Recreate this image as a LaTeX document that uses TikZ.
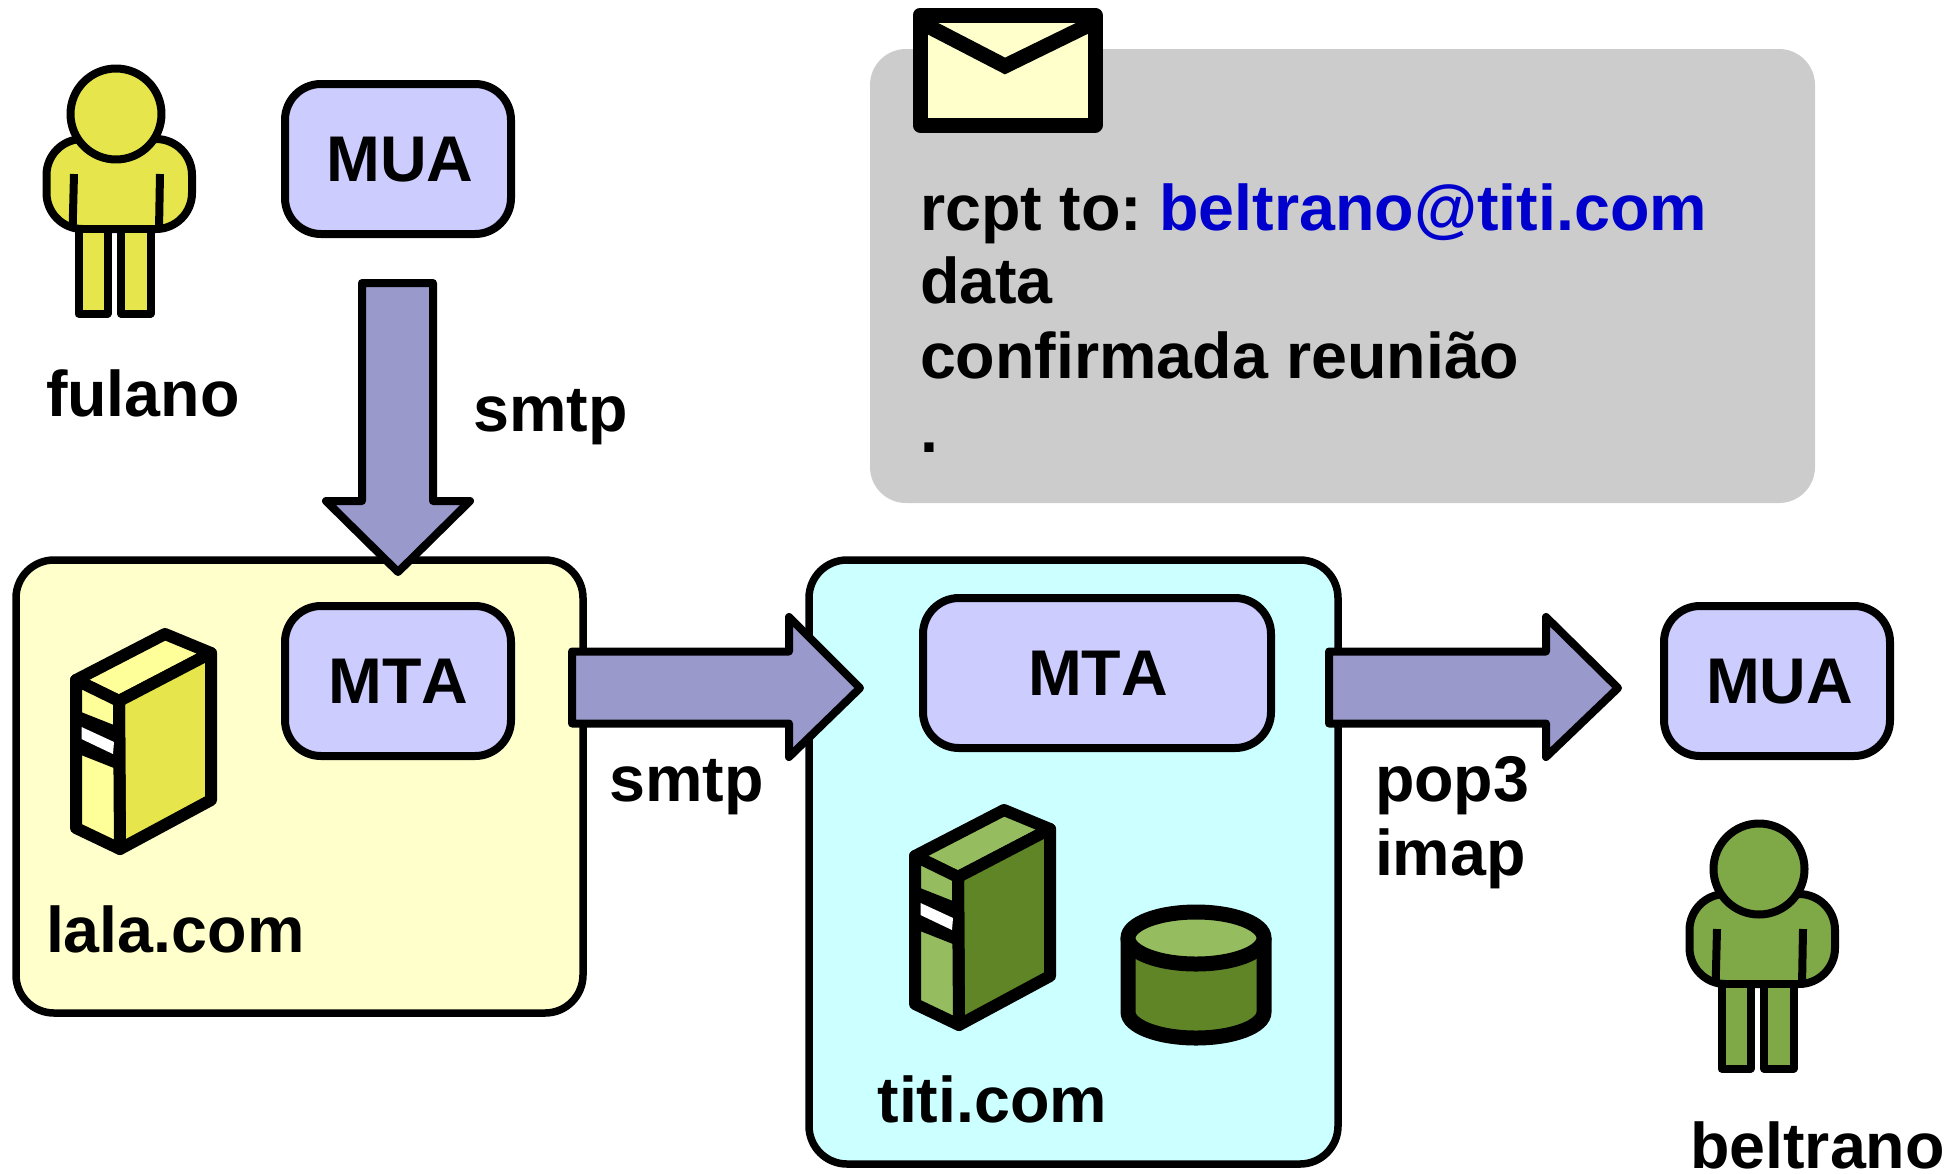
\documentclass[tikz,border=0pt]{standalone}
\usepackage{fontspec}
\setmainfont{Liberation Sans}[Kerning=Off]
\definecolor{boxyellow}{HTML}{FFFFCC}
\definecolor{boxcyan}{HTML}{CCFFFF}
\definecolor{boxblue}{HTML}{CCCCFF}
\definecolor{arrowblue}{HTML}{9999CC}
\definecolor{boxgray}{HTML}{CCCCCC}
\definecolor{mailblue}{HTML}{0000CC}
\definecolor{peryellow}{HTML}{E6E64C}
\definecolor{litey}{HTML}{FFFF99}
\definecolor{pergreen}{HTML}{7FA847}
\definecolor{darkg}{HTML}{5F8527}
\definecolor{liteg}{HTML}{95BD5F}
\tikzset{
  lbl/.style={anchor=base west,inner sep=0pt,outer sep=0pt,font=\fontsize{64.6}{74}\selectfont\bfseries},
  domain box/.style={draw=black,line width=7.5pt,rounded corners=38pt},
  agent box/.style={draw=black,fill=boxblue,line width=8pt,rounded corners=36pt},
  block arrow/.style={draw=black,fill=arrowblue,line width=8pt,line join=round},
  figline/.style={draw=black,line width=8pt,line join=round},
  srv/.style={draw=black,line width=12pt,line join=round},
}
\newcommand{\personfig}[3]{%
  \begin{scope}[shift={(#1,#2)}]
    \draw[figline,fill=#3,rounded corners=36pt] (46.5,139) rectangle (192,229);
    \draw[figline,fill=#3] (78.5,229) rectangle (107.5,313.5);
    \draw[figline,fill=#3] (121,229) rectangle (150.5,313.5);
    \draw[figline] (78.5,229) -- (150.5,229);
    \draw[figline] (74,174) -- (72.6,230);
    \draw[figline] (160,174) -- (159,230);
    \draw[figline,fill=#3] (116,114) circle[radius=45.5];
  \end{scope}}
\newcommand{\serverfig}[4]{%
  \begin{scope}[shift={(#1,#2)}]
    \draw[srv,fill=#3] (165,634) -- (211,653) -- (119,701) -- (76,680) -- cycle;
    \draw[srv,fill=#4] (211,653) -- (211,800) -- (120,849) -- (119,701) -- cycle;
    \draw[srv,fill=#3] (76,680) -- (119,701) -- (120,849) -- (76,828) -- cycle;
    \fill[black] (76,710) -- (119,727) -- (119,770) -- (76,753) -- cycle;
    \fill[white] (81.5,727) -- (114,742) -- (113,754) -- (81.5,739) -- cycle;
  \end{scope}}
\begin{document}
\begin{tikzpicture}[x=1pt,y=-1pt]
\useasboundingbox (0,0) rectangle (1958,1173);
% gray message box
\fill[boxgray,rounded corners=36pt] (870,49) rectangle (1815,503);
% envelope
\draw[black,line width=15pt,fill=boxyellow,line join=round] (920,15) rectangle (1095,125);
\draw[black,line width=15pt,line join=miter] (920,22) -- (1005,66) -- (1095,22);
% domains
\draw[domain box,fill=boxyellow] (16,560) rectangle (583,1013);
\draw[domain box,fill=boxcyan] (809,560) rectangle (1338,1164);
% agents
\draw[agent box] (285,84) rectangle (511,234);
\draw[agent box] (285,606) rectangle (511,756);
\draw[agent box] (923,598) rectangle (1271,748);
\draw[agent box] (1664,606) rectangle (1890,756);
% persons
\personfig{0}{0}{peryellow}
\personfig{1643}{755}{pergreen}
% servers
\serverfig{0}{0}{litey}{peryellow}
\serverfig{839}{176}{liteg}{darkg}
% database
\draw[black,line width=15pt,fill=darkg] (1128,938) -- (1128,1012) arc[start angle=180,end angle=0,x radius=68,y radius=26] -- (1264,938);
\draw[black,line width=15pt,fill=liteg] (1196,938) ellipse[x radius=68,y radius=26];
% block arrows
\draw[block arrow] (362,283) -- (433,283) -- (433,501) -- (470,501) -- (398,572) -- (326,501) -- (362,501) -- cycle;
\draw[block arrow] (572,651.5) -- (789,651.5) -- (789,617) -- (860,688) -- (789,757) -- (789,723.5) -- (572,723.5) -- cycle;
\draw[block arrow] (1329,651.5) -- (1546,651.5) -- (1546,617) -- (1618,688) -- (1546,757) -- (1546,723.5) -- (1329,723.5) -- cycle;
% labels
\node[lbl] (mua1) at (326.5,181.5) {MUA};
\node[lbl] (mta1) at (328.5,703.5) {MTA};
\node[lbl] (mta2) at (1028,695.5) {MTA};
\node[lbl] (mua2) at (1706,703.5) {MUA};
\node[lbl] (fulano) at (46,416) {fulano};
\node[lbl] (smtpa) at (473.5,431) {smtp};
\node[lbl] (smtpb) at (609.5,801) {smtp};
\node[lbl] (lala) at (46,952) {lala.com};
\node[lbl] (titi) at (877.5,1122) {titi.com};
\node[lbl] (pop) at (1375,801) {pop3};
\node[lbl] (imap) at (1375,875) {imap};
\node[lbl] (beltrano) at (1690,1168) {beltrano};
\node[lbl] (rcpt) at (920,230) {rcpt to:\hspace{17pt}\textcolor{mailblue}{beltrano@titi.com}};
\node[lbl] (data) at (920,303) {data};
\node[lbl] (conf) at (920,378) {confirmada reunião};
\node[lbl] (dot) at (920,452) {.};
\end{tikzpicture}
\end{document}
